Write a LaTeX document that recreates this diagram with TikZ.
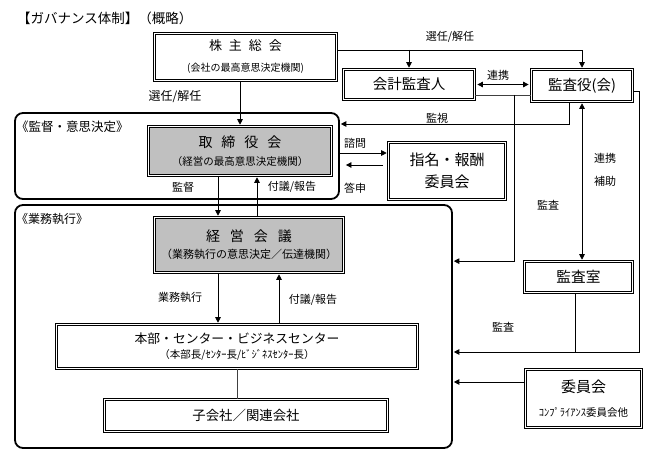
\documentclass[tikz,border=0pt]{standalone}
\usepackage{fontspec}
\setmainfont{Noto Sans CJK JP}
\usetikzlibrary{arrows.meta,calc}
\definecolor{boxgray}{RGB}{192,192,192}
\newcommand\fsz[2]{\fontsize{#1}{#2}\selectfont}
\begin{document}
\begin{tikzpicture}[x=1pt,y=-1pt,
  box/.style={draw, double, double distance=1.4pt, line width=0.75pt, inner sep=0pt, align=center, fill=white, font=\fsz{10}{12}},
  gbox/.style={box, fill=boxgray},
  frm/.style={draw, line width=1.8pt, rounded corners=8pt, inner sep=0pt, minimum width=#1},
  arr/.style={-{Triangle[length=5.5pt,width=5.5pt]}, line width=0.8pt},
  darr/.style={{Triangle[length=5.5pt,width=5.5pt]}-{Triangle[length=5.5pt,width=5.5pt]}, line width=0.8pt},
  ln/.style={line width=0.8pt},
  lbl/.style={font=\fsz{11}{13}, inner sep=0pt}
]
\useasboundingbox (0,0) rectangle (647,454);
\fill[white] (0,0) rectangle (647,454);

% title
\node[anchor=west, inner sep=0pt, font=\fsz{13.5}{15}] (title) at (17,18) {【ガバナンス体制】（概略）};

% frames
\node[frm=324pt, minimum height=86pt] (frame1) at (177,156) {};
\node[frm=437pt, minimum height=243pt] (frame2) at (233.5,326.5) {};
\node[anchor=west, inner sep=0pt, font=\fsz{12.5}{14}] (f1lbl) at (16,127) {《監督・意思決定》};
\node[anchor=west, inner sep=0pt, font=\fsz{12}{14}] (f2lbl) at (16,219) {《業務執行》};

% boxes
\node[box, minimum width=182pt, minimum height=47pt] (kabu) at (245.5,57)
  {{\fsz{13}{15}株\kern7pt 主\kern7pt 総\kern7pt 会}\\[9pt]{\fsz{10}{12}(会社の最高意思決定機関)}};
\node[box, minimum width=131pt, minimum height=30pt, font=\fsz{14.5}{16}] (kaikei) at (409,84.5) {会計監査人};
\node[box, minimum width=101pt, minimum height=32pt, font=\fsz{14.5}{16}] (kansayaku) at (582,85.5) {監査役(会)};
\node[gbox, minimum width=183pt, minimum height=49pt] (torishimari) at (240,151)
  {{\fsz{14}{16}取\kern9pt 締\kern9pt 役\kern9pt 会}\\[6pt]{\fsz{10.5}{12}（経営の最高意思決定機関）}};
\node[box, minimum width=117pt, minimum height=57pt] (shimei) at (447,171)
  {{\fsz{15}{17}指名・報酬}\\[7pt]{\fsz{15}{17}委員会}};
\node[gbox, minimum width=189pt, minimum height=55pt] (keiei) at (249,245)
  {{\fsz{14}{16}経\kern10pt 営\kern10pt 会\kern10pt 議}\\[5pt]{\fsz{11}{12}（業務執行の意思決定／伝達機関）}};
\node[box, minimum width=361pt, minimum height=44pt] (honbu) at (237,346.5)
  {{\fsz{12.8}{15}本部・センター・ビジネスセンター}\\[3pt]{\fsz{10.5}{12}（本部長/ｾﾝﾀｰ長/ﾋﾞｼﾞﾈｽｾﾝﾀｰ長）}};
\node[box, minimum width=283pt, minimum height=32pt, font=\fsz{13.4}{15}] (kogaisha) at (246,415.5) {子会社／関連会社};
\node[box, minimum width=108pt, minimum height=31pt, font=\fsz{14.7}{16}] (kansashitsu) at (578.5,277) {監査室};
\node[box, minimum width=116pt, minimum height=58pt] (iinkai) at (583.5,398.5)
  {{\fsz{15}{17}委員会}\\[12pt]{\fsz{10.5}{12}ｺﾝﾌﾟﾗｲｱﾝｽ委員会他}};

% helper coordinates
\coordinate (selR) at (338,50);
\coordinate (stub) at (514,95);
\coordinate (watch) at (569,124);
\coordinate (rgt) at (639,91);
\coordinate (aud2) at (639,352);
\coordinate (j2) at (575,352);
\coordinate (c3) at (0,382);
\coordinate (xa) at (218,0);
\coordinate (xb) at (257,0);
\coordinate (xc) at (279,0);
\coordinate (y1) at (0,153);
\coordinate (y2) at (0,165);

% connectors
\draw[arr, shorten >=1.4pt] (torishimari.north |- kabu.south) -- (torishimari.north);
\draw[arr, shorten >=1.4pt] (kabu.east |- selR) -| (kansayaku.north);
\draw[arr, shorten >=1.4pt] (kaikei.north |- selR) -- (kaikei.north);
\draw[darr, shorten >=2.5pt, shorten <=2.5pt] (kaikei.east) -- (kansayaku.west |- kaikei.east);
\draw[ln, black!75] (kaikei.east |- stub) -- (kansayaku.west |- stub);
\draw[arr, shorten >=0.9pt] (stub) |- (frame2.east |- kansashitsu.north);
\draw[arr, shorten >=0.9pt] (kansayaku.south -| watch) |- (frame1.east |- watch);
\draw[darr, shorten >=1.4pt, shorten <=1.4pt] (kansayaku.south) -- (kansayaku.south |- kansashitsu.north);
\draw[arr, shorten >=0.9pt] (kansayaku.east |- rgt) -| (aud2) -- (frame2.east |- aud2);
\draw[ln] (kansashitsu.south -| j2) -- (j2);
\draw[arr, shorten >=0.9pt] (iinkai.west |- c3) -- (frame2.east |- c3);
\draw[arr, shorten >=1.4pt] (torishimari.south -| xa) -- (keiei.north -| xa);
\draw[arr, shorten >=1.4pt] (keiei.north -| xb) -- (torishimari.south -| xb);
\draw[arr, shorten >=1.4pt] (frame1.east |- y1) -- (shimei.west |- y1);
\draw[arr] ($(shimei.west |- y2)+(-5,0)$) -- ($(frame1.east |- y2)+(6,0)$);
\draw[arr, shorten >=1.4pt] (keiei.south -| xa) -- (honbu.north -| xa);
\draw[arr, shorten >=1.4pt] (honbu.north -| xc) -- (keiei.south -| xc);
\draw[ln, black!75] (honbu.south) -- (honbu.south |- kogaisha.north);

% labels
\node[lbl, font=\fsz{12}{14}] (l1) at (175,97) {選任/解任};
\node[lbl] (l2) at (450,37) {選任/解任};
\node[lbl] (l3) at (498,75) {連携};
\node[lbl] (l4) at (437,118) {監視};
\node[lbl] (l5) at (605,158) {連携};
\node[lbl] (l6) at (605,181) {補助};
\node[lbl] (l7) at (548,205) {監査};
\node[lbl] (l8) at (503,327) {監査};
\node[lbl] (l9) at (183,187) {監督};
\node[lbl] (l10) at (292,187) {付議/報告};
\node[lbl] (l11) at (355,143) {諮問};
\node[lbl] (l12) at (355,188) {答申};
\node[lbl] (l13) at (180,297) {業務執行};
\node[lbl] (l14) at (313,300) {付議/報告};
\end{tikzpicture}
\end{document}
